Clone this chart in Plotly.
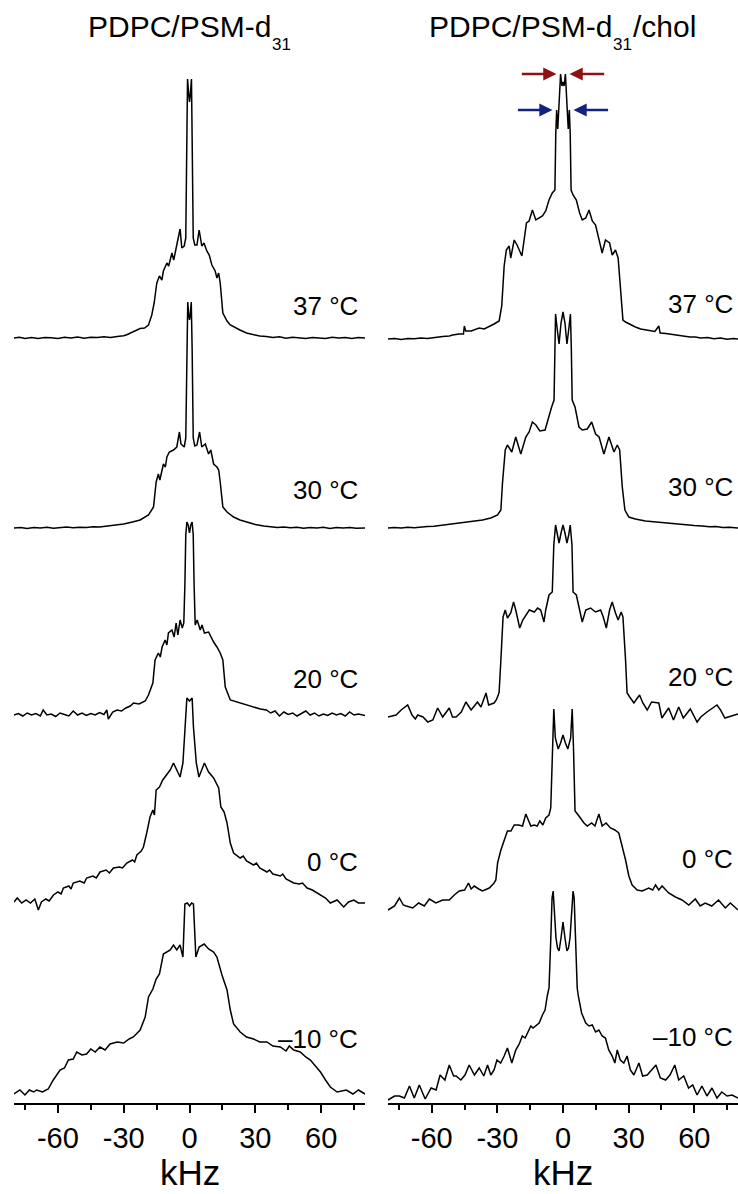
import plotly.graph_objects as go

# ---------------- data (kHz, intensity in plot units above each baseline) ----------------
L37 = [(-80,0),(-77.5,0.8),(-75,-0.5),(-72,0.6),(-69,-0.4),(-66,0.5),(-63,0.2),(-60,-0.6),(-57,0.7),(-54,0),
       (-51,1.0),(-48,-0.3),(-45,0.8),(-42,0.4),(-39,1.2),(-36,0.6),(-33,1.5),(-30,2.2),(-28.6,3.3),(-27,5),
       (-25,6.5),(-22.5,9.5),(-20.5,10),(-18.7,13),(-17.2,23),(-16.1,35),(-14.9,55),(-13.7,62),(-12.6,58),(-11.9,67),
       (-10.3,75),(-9.5,72),(-8.0,85),(-7.2,78),(-5.8,93),(-4.3,109),(-3.5,90),(-2.4,92),(-1.7,100),(-1.2,200),
       (-0.9,259),(-0.3,242),(0,236),(0.3,242),(0.9,259),(1.2,200),(1.7,100),(2.4,93),(3.4,93),(4.4,108),
       (5.6,92),(6.6,95),(7.9,87),(9.0,83),(10.2,73),(11.7,67),(12.5,60),(13.3,65),(14.0,55),(15.2,25),
       (17.1,17),(18.6,13),(21,10),(23,8),(26,5),(29.2,3),(32,2),(35,1.5),(38,0.5),(41,1.2),(44,-0.3),
       (47,0.8),(50,0.2),(53,-0.5),(56,0.6),(59,0.1),(62,-0.4),(65,0.7),(68,0),(71,0.5),(74,-0.6),(77,0.4),(80,0)]

L30 = [(-80,0),(-77,0.6),(-74,-0.4),(-71,0.5),(-68,0),(-65,0.7),(-62,-0.3),(-59,0.4),(-56,0.9),(-53,0.2),
       (-50,0.8),(-47,0.5),(-44,1.2),(-41,1.0),(-38,1.8),(-35,2.4),(-32,3.2),(-30,4),(-26,6),(-22.5,8),
       (-18.7,13),(-16.4,21),(-15.2,46),(-14.2,54),(-13.5,48),(-11.9,64),(-11.0,61),(-10.3,71),(-9.2,76),(-7.3,78),
       (-5.8,81),(-4.6,96),(-3.9,84),(-2.4,81),(-1.7,90),(-1.2,180),(-0.8,226),(-0.3,212),(0,208),(0.3,212),
       (0.8,226),(1.2,180),(1.7,90),(2.4,82),(3.4,83),(4.6,96),(5.6,81),(7.2,84),(8.7,74),(9.7,78),
       (11.0,64),(12.5,61),(13.3,58),(14.0,46),(15.2,21),(17.1,16),(20.1,11),(23,8),(26.2,6),(30,3.5),
       (33.8,2),(37,1.5),(40,0.6),(43,1.1),(46,0.2),(49,0.8),(52,-0.3),(55,0.6),(58,0.1),(61,0.7),
       (64,-0.4),(67,0.5),(70,0),(73,0.6),(76,-0.3),(80,0)]

L20 = [(-80,0),(-78,1.5),(-76,-1),(-74,2),(-72,0),(-70,1.5),(-68,-1),(-66.7,5),(-65,0),(-63,1),
       (-61,-1.5),(-59,2),(-57,0.5),(-55,-1),(-53,4),(-51,0),(-49,2),(-47,-0.5),(-45,1.5),(-43,0),
       (-41,2.5),(-39,0.5),(-37.7,5),(-37,-4),(-35,3),(-33,5),(-31,4),(-29,7),(-27,9),(-25.5,12),
       (-23,11),(-20.2,14),(-18.7,20),(-16.7,32),(-15.7,55),(-14.2,62),(-13.3,58),(-12.5,68),(-11.1,75),(-10.3,70),
       (-9.6,82),(-8.0,85),(-7.0,78),(-6.1,92),(-5.3,80),(-4.3,95),(-3.3,87),(-2.6,92),(-2.1,130),(-1.7,180),
       (-1.2,193),(-0.6,190),(0,182),(0.6,190),(1.2,193),(1.7,180),(2.1,130),(2.6,90),(3.5,95),(4.9,85),
       (5.7,90),(6.8,82),(8.7,83),(9.9,77),(11,73),(12.5,68),(14,62),(15.2,55),(16.3,28),(18.6,15),
       (23.1,12),(27,9),(32.3,6),(35,5),(37,2),(39,4),(41,-1),(43,3),(45,0.5),(47,2),
       (49,-1),(51,1.5),(53,4),(55,0),(57,2),(59,-1),(61,1),(63,-0.5),(65,2),(67,0),
       (69,1.5),(71,-1),(73,3),(75,0),(77,1),(80,-0.5)]

L0 = [(-80,1),(-78.5,5),(-76.5,0),(-74.5,3),(-72.5,0),(-70.5,4),(-68.9,-7),(-67.5,1),(-65.5,4),(-64,2),
      (-62,8),(-60,11),(-58.5,9),(-57.5,15),(-55,17),(-54,14),(-53,20),(-50,22),(-48,20),(-46.9,25),
      (-44,27),(-42.5,25),(-40.8,31),(-38,33),(-36.5,30),(-34.7,35),(-32,36),(-30.5,35),(-28.6,40),(-26,43),
      (-25,41),(-24,48),(-22,52),(-21,56),(-19.5,70),(-18,86),(-16.7,93),(-16,88),(-15.2,113),(-13.7,116),
      (-12.2,123),(-10.3,128),(-8.8,133),(-7.3,140),(-5.8,133),(-4.3,126),(-3.0,140),(-2.0,173),(-1.2,205),(0,202),
      (1.2,205),(1.8,176),(3.1,140),(4.3,126),(5.6,133),(6.8,140),(8.7,131),(11,125),(13.3,115),(14.3,96),
      (15.8,91),(17.1,80),(18.6,60),(20.1,50),(23.1,45),(24.5,47),(26,42),(29.2,38),(30.5,40),(32,35),
      (35.3,31),(36.5,33),(38,29),(41.4,27),(42.5,29),(44,24),(47.5,20),(50,19),(51.5,20),(53.6,15),
      (56,13),(59.7,8),(62,5),(64.2,0),(67.3,3),(70.3,-4),(72.5,1),(74.9,3),(77,0),(80,0)]

Lm10 = [(-80,-2),(-77.3,2),(-75,-3),(-73,2),(-71,0),(-69.7,2),(-67,0),(-64.4,3),(-62.1,12),(-59,22),
        (-57,24),(-55.2,32),(-53,33),(-51.4,40),(-49,37),(-46.9,38),(-45,43),(-43,40),(-40.8,45),(-38.5,42),
        (-36.2,48),(-33,50),(-30,49),(-27.5,53),(-25.6,55),(-22.5,62),(-20.2,75),(-18.7,95),(-16.7,103),(-15.2,113),
        (-13.7,118),(-11.9,138),(-8.8,142),(-7.3,147),(-5.8,142),(-4.3,147),(-3.0,135),(-2.1,188),(-1.0,189),(0,186),
        (1.0,189),(1.8,188),(2.9,135),(4.4,145),(6.7,148),(8.7,143),(11,140),(12.5,135),(14.8,117),(17.1,102),
        (18.6,82),(20.1,68),(23.1,60),(26,55),(29.2,53),(32,50),(35.3,50),(38,46),(41.4,45),(44,41),
        (45.5,46),(47.5,42),(50.5,40),(53,35),(55.1,32),(57.5,26),(59.7,20),(62,12),(64.2,5),(67.3,0),
        (71.5,2),(74.5,-2),(77,2),(80,-2)]

R37 = [(-80,0),(-77,0.5),(-74,-0.4),(-71,0.6),(-68,0.2),(-65,0.9),(-62,0.5),(-58.1,2),(-55,2.5),(-52,3),
       (-50.5,4),(-47.5,5),(-45.5,5),(-45.1,13),(-44.5,8),(-42,8),(-40,9.5),(-38.3,11),(-36,10),(-33.7,13),
       (-31.5,15),(-29.2,18),(-28,33),(-26.9,73),(-25.9,89),(-24.6,93),(-23.9,81),(-22.3,99),(-21,94),(-18.8,83),
       (-17.8,99),(-16.7,116),(-15.5,118),(-14,129),(-12.4,119),(-10.9,121),(-9.4,123),(-7.9,128),(-6.4,139),(-4.9,146),
       (-3.7,149),(-3.3,205),(-2.9,229),(-2.4,210),(-1.8,235),(-1.1,265),(-0.5,253),(0,257),(0.5,253),(1.1,265),
       (1.8,235),(2.4,210),(2.9,229),(3.3,205),(3.7,149),(4.6,144),(6.1,139),(7.6,126),(8.8,119),(10.4,121),
       (11.9,129),(13.4,118),(14.9,114),(16.4,99),(17.9,86),(19.4,99),(21.3,96),(22.5,84),(24,89),(25.2,81),
       (26.3,49),(27.4,19),(28.6,17),(31,14),(33.1,12),(35.5,10),(37.7,9),(40,8.5),(42,7.5),(43.8,13),
       (44.4,6),(47,5.5),(51.4,4),(55,3.5),(58,2),(60.5,2),(63,1),(66,1.5),(69,0.3),(72,0.9),
       (75,-0.2),(78,0.5),(80,0)]

R30 = [(-80,0),(-77,0.6),(-74,0.1),(-71,0.8),(-68,0.3),(-65.7,1),(-62,1.5),(-59,1.8),(-56,2.6),(-53,3),
       (-50.5,4),(-47,4.8),(-44,5.5),(-41,6.5),(-38,7.5),(-36.8,8),(-33,10),(-29.9,13),(-28.4,18),(-27.7,44),
       (-26.4,78),(-25.4,83),(-23.4,76),(-21.6,91),(-19.3,74),(-17,91),(-15.5,96),(-14,106),(-12.4,103),(-10.6,97),
       (-8.2,98),(-6.4,113),(-5.2,121),(-4.1,128),(-3.8,180),(-3.4,214),(-2.7,200),(-1.8,184),(-0.9,205),(0,216),
       (0.9,205),(1.8,184),(2.7,200),(3.4,214),(3.8,180),(4.2,128),(5.5,121),(7.3,101),(8.8,98),(11.1,99),
       (13.1,106),(14.9,94),(16.5,91),(18.7,74),(21,91),(23.3,76),(24.8,83),(25.9,78),(27.1,41),(28.3,18),
       (30.1,11),(33,9),(37.7,7),(42,6),(46,5),(51.4,4),(56,3),(60,2.5),(63.5,2),(67,1.2),
       (70,1.5),(73,0.5),(76,0.8),(80,0)]

R20 = [(-80,-2),(-76.3,0),(-74,5),(-71,10),(-69,0),(-67.5,-4),(-66.4,0),(-64,-2),(-61.8,-7),(-59.5,-5),
       (-57.3,7),(-55,-2),(-52,7),(-50.5,-2),(-48.9,-2),(-46.5,3),(-44.4,13),(-42,5),(-39.1,13),(-37.5,8),
       (-35.2,22),(-34,10),(-31.5,12),(-30.5,15),(-29.6,20),(-29.2,23),(-28.4,55),(-27.4,98),(-26.4,105),(-25.4,97),
       (-23.9,102),(-22.6,113),(-21.6,105),(-19.8,87),(-18.4,95),(-15.4,105),(-13.1,103),(-11.6,107),(-10.2,105),(-8.7,93),
       (-7.9,105),(-6.4,120),(-4.9,123),(-4.2,170),(-3.4,190),(-2.6,180),(-1.8,172),(-0.9,182),(0,190),(0.9,182),
       (1.8,172),(2.6,180),(3.3,190),(4.1,170),(4.6,123),(6.1,120),(7.6,105),(8.8,93),(10.4,105),(12.6,107),
       (14.9,103),(17.2,105),(18.4,98),(19.8,87),(21.3,105),(22.5,113),(24,102),(25.2,95),(26.6,103),(27.4,98),
       (28.6,55),(29.3,22),(30.5,18),(32.4,12),(35,20),(36.5,12),(38.5,5),(40.5,13),(43.8,12),(45.2,-3),
       (48.3,7),(50.5,-5),(52.9,8),(55,-3),(58.2,6),(61.3,-7),(63,-2),(65.8,3),(70.4,10),(72,5),
       (74,-3),(77.2,-1),(80,1)]

R0 = [(-80,-2),(-77,2),(-74.8,10),(-73,3),(-71.7,2),(-68.7,0),(-66,5),(-63.4,2),(-61.1,9),(-58.1,5),
      (-55,8),(-52,8),(-49.7,13),(-47.4,17),(-45,18),(-43.2,25),(-42,19),(-40.6,22),(-38.5,19),(-36.8,17),
      (-33.7,20),(-31.5,25),(-30.7,28),(-29.9,45),(-28.4,58),(-26.9,68),(-25.4,77),(-23.8,77),(-22.3,83),(-20.3,83),
      (-18.5,82),(-17,94),(-14.7,82),(-13.2,83),(-11.8,82),(-10.6,87),(-9.2,83),(-7.9,90),(-6.4,93),(-5.6,100),
      (-4.8,160),(-4.2,199),(-3.5,170),(-2.2,159),(-1.1,165),(0,173),(1.1,165),(2.2,159),(3.5,170),(4.2,199),
      (4.8,160),(5.5,97),(7.3,92),(9.6,85),(11.1,82),(13.1,85),(14.6,82),(16.4,94),(17.9,82),(19.7,85),
      (21.7,80),(23.7,78),(25.5,75),(27,62),(28.6,48),(30.1,32),(31.6,23),(33.9,18),(36.2,17),(39.2,20),
      (41,18),(42.3,23),(43.8,18),(45.3,22),(48.3,15),(51.4,11),(54.4,8),(57.5,3),(60.5,9),(62.7,2),
      (65,5),(68,2),(71.1,8),(74.2,0),(76.5,5),(80,-2)]

Rm10 = [(-80,-2),(-77,2),(-74.8,2),(-72.5,0),(-70.2,12),(-68,0),(-65.7,13),(-63,-1),(-60.3,10),(-58,8),
        (-56.2,23),(-54,18),(-52,33),(-50,22),(-48.9,22),(-46.7,18),(-44.8,23),(-42.9,33),(-40.5,23),(-38.3,30),
        (-36.2,22),(-34.5,33),(-33,23),(-31.5,28),(-30.2,38),(-28.5,35),(-26.9,42),(-25.4,50),(-23.4,35),(-21.6,48),
        (-20,54),(-18.6,62),(-17.3,60),(-15.9,66),(-14.7,72),(-13.7,70),(-12,73),(-10.9,75),(-9.4,83),(-8.2,88),
        (-7.2,102),(-6.4,110),(-5.6,158),(-5.0,200),(-4.5,207),(-4.0,190),(-3.2,160),(-2.5,150),(-1.8,147),(-0.9,160),
        (0,176),(0.9,160),(1.8,147),(2.5,150),(3.2,160),(4.1,190),(4.6,207),(5.1,200),(5.7,158),(6.5,110),
        (7,102),(8.5,85),(10.4,75),(11.9,72),(13.4,73),(14.9,66),(16.4,68),(17.9,62),(19.4,60),(20.9,48),
        (22.5,42),(23.7,35),(24.8,48),(26.2,38),(27.8,35),(29.3,42),(30.8,28),(32.4,23),(34.7,35),(36.4,22),
        (38.5,23),(40.7,28),(42.5,33),(44.5,20),(46.9,18),(48.9,23),(51.1,33),(52.9,18),(55.2,22),(57.4,10),
        (59.3,13),(61.3,3),(63.5,12),(65.8,2),(68.1,10),(70.4,0),(72.6,6),(75,2),(77.3,3),(80,0)]

temps = ["37 °C", "30 °C", "20 °C", "0 °C", "\u201310 °C"]
left_specs = [L37, L30, L20, L0, Lm10]
right_specs = [R37, R30, R20, R0, Rm10]
left_offsets = [765, 575, 388, 200, 11]
right_offsets = [764, 575, 388, 195, 5]
left_label_h = [32, 38, 36, 41, 53]
right_label_h = [35, 41, 38, 49, 61]
tick_vals = [-60, -30, 0, 30, 60]
x_range = [-80, 80]
titles = [("PDPC/PSM-d", "31", ""), ("PDPC/PSM-d", "31", "/chol")]

# ---------------- figure ----------------
W, H = 738, 1194
ML, MR, MT, MB = 14, 0, 50, 91
PW, PH = W - ML - MR, H - MT - MB
FONT = "Liberation Sans, Arial, Helvetica, sans-serif"

def px2paper_x(px):
    return (px - ML) / PW

def px2paper_y(py):
    return (H - MB - py) / PH

fig = go.Figure()
for specs, offs, xa, ya in [(left_specs, left_offsets, "x", "y"), (right_specs, right_offsets, "x2", "y2")]:
    for spec, off in zip(specs, offs):
        fig.add_trace(go.Scatter(
            x=[p[0] for p in spec], y=[p[1] + off for p in spec],
            mode="lines", line=dict(color="black", width=1.5),
            xaxis=xa, yaxis=ya, showlegend=False, hoverinfo="skip"))

annotations = []
# temperature labels
for specs_offs, lab_h, xref, yref, xpos in [(left_offsets, left_label_h, "x domain", "y", 0.986),
                                            (right_offsets, right_label_h, "x2 domain", "y2", 0.991)]:
    for t, off, lh in zip(temps, specs_offs, lab_h):
        annotations.append(dict(text=t, x=xpos, y=off + lh, xref=xref, yref=yref,
                                xanchor="right", yanchor="middle", showarrow=False,
                                font=dict(size=26, color="black", family=FONT)))

# panel titles (main text + subscript + tail)
title_left_px = [86, 427]
for (main, sub, tail), lpx in zip(titles, title_left_px):
    annotations.append(dict(text=main, x=px2paper_x(lpx), y=px2paper_y(27), xref="paper", yref="paper",
                            xanchor="left", yanchor="middle", showarrow=False,
                            font=dict(size=30, color="black", family=FONT)))
    annotations.append(dict(text=sub, x=px2paper_x(lpx + 184), y=px2paper_y(44), xref="paper", yref="paper",
                            xanchor="left", yanchor="middle", showarrow=False,
                            font=dict(size=17, color="black", family=FONT)))
    if tail:
        annotations.append(dict(text=tail, x=px2paper_x(lpx + 204), y=px2paper_y(27), xref="paper", yref="paper",
                                xanchor="left", yanchor="middle", showarrow=False,
                                font=dict(size=30, color="black", family=FONT)))

# kHz axis labels
for dom_c in [px2paper_x((14 + 365) / 2), px2paper_x((388 + 738) / 2)]:
    annotations.append(dict(text="kHz", x=dom_c, y=px2paper_y(1172), xref="paper", yref="paper",
                            xanchor="center", yanchor="middle", showarrow=False,
                            font=dict(size=35, color="black", family=FONT)))

# arrows marking the splittings on the top right spectrum
inner = max(R37, key=lambda p: p[1])
outer = max([p for p in R37 if 2.5 < abs(p[0]) < 3.5], key=lambda p: p[1])
off37 = right_offsets[0]
red, blue = "#8e1212", "#12237f"
gap, length = 1.9, 16.5
for level, xpk, col in [(inner[1] + off37, abs(inner[0]), red), (outer[1] + off37, abs(outer[0]), blue)]:
    for sgn in (-1, 1):
        head = sgn * (xpk + gap)
        annotations.append(dict(text="", x=head, y=level, ax=head + sgn * length, ay=level,
                                xref="x2", yref="y2", axref="x2", ayref="y2",
                                showarrow=True, arrowhead=2, arrowsize=1.1, arrowwidth=2.4,
                                arrowcolor=col, standoff=0))

axis_common = dict(range=x_range, showline=True, linecolor="black", linewidth=1.5,
                   ticks="outside", ticklen=8, tickwidth=1.5, tickcolor="black",
                   tickmode="array", tickvals=tick_vals, ticktext=[str(v) for v in tick_vals],
                   tickfont=dict(size=29, color="black", family=FONT),
                   showgrid=False, zeroline=False, fixedrange=True,
                   minor=dict(tickmode="linear", tick0=15, dtick=30, ticks="outside",
                              ticklen=5, tickwidth=1.5, tickcolor="black", showgrid=False))

fig.update_layout(
    width=W, height=H, margin=dict(l=ML, r=MR, t=MT, b=MB),
    paper_bgcolor="white", plot_bgcolor="white", showlegend=False,
    xaxis=dict(domain=[0, px2paper_x(365)], anchor="y", **axis_common),
    xaxis2=dict(domain=[px2paper_x(388), 1], anchor="y2", **axis_common),
    yaxis=dict(domain=[0, 1], range=[0, PH], visible=False, fixedrange=True),
    yaxis2=dict(domain=[0, 1], range=[0, PH], visible=False, fixedrange=True, anchor="x2"),
    annotations=annotations,
    font=dict(family=FONT, color="black"),
)

page_fix = ("document.documentElement.style.margin='0';document.body.style.margin='0';"
            "document.body.style.padding='0';document.documentElement.style.overflow='hidden';"
            "document.body.style.overflow='hidden';")
fig.write_html("out.html", post_script=page_fix, config={"displayModeBar": False})
